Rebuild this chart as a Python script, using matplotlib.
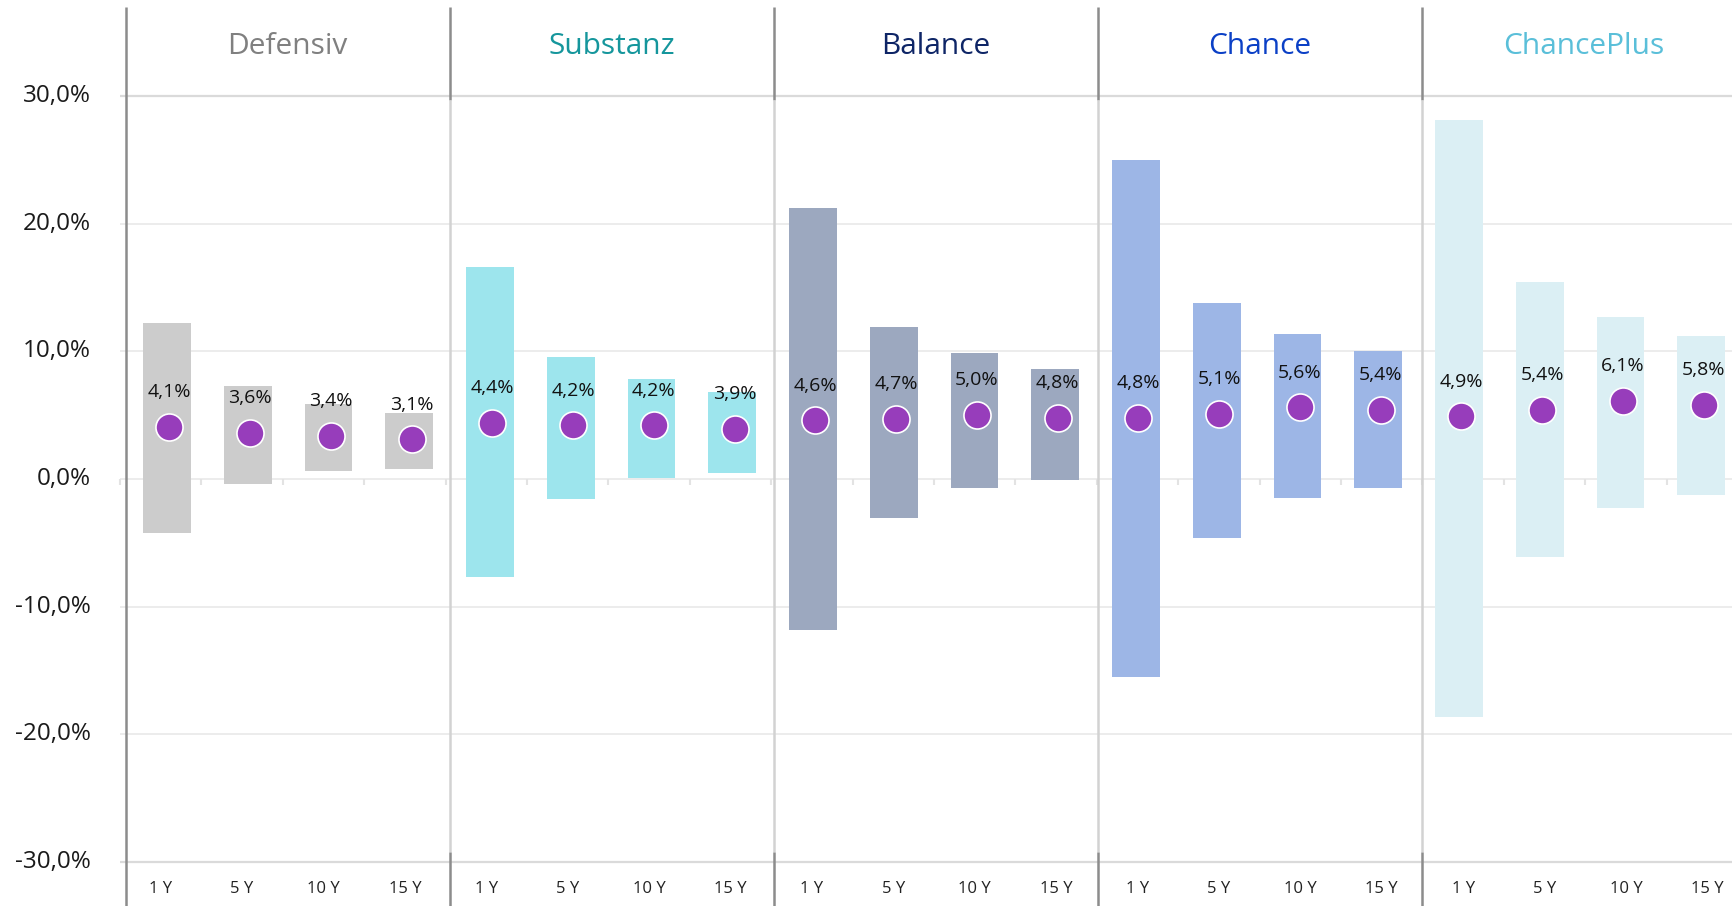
import matplotlib
matplotlib.use("Agg")
import matplotlib.pyplot as plt
import numpy as np

plt.rcParams['font.family'] = ['Open Sans', 'DejaVu Sans']

# ---------------- data ----------------
funds = ["Defensiv", "Substanz", "Balance", "Chance", "ChancePlus"]
horizons = ["1 Y", "5 Y", "10 Y", "15 Y"]

defensiv_low = [-4.2, -0.4, 0.65, 0.8]
defensiv_high = [12.2, 7.3, 5.9, 5.2]
defensiv_mid = [4.1, 3.6, 3.4, 3.1]

substanz_low = [-7.65, -1.55, 0.1, 0.5]
substanz_high = [16.6, 9.55, 7.85, 6.8]
substanz_mid = [4.4, 4.2, 4.2, 3.9]

balance_low = [-11.8, -3.05, -0.7, -0.05]
balance_high = [21.2, 11.9, 9.9, 8.6]
balance_mid = [4.6, 4.7, 5.0, 4.8]

chance_low = [-15.5, -4.6, -1.45, -0.7]
chance_high = [25.0, 13.8, 11.35, 10.0]
chance_mid = [4.8, 5.1, 5.6, 5.4]

chanceplus_low = [-18.6, -6.1, -2.3, -1.25]
chanceplus_high = [28.1, 15.45, 12.7, 11.2]
chanceplus_mid = [4.9, 5.4, 6.1, 5.8]

y_ticks = [-30, -20, -10, 0, 10, 20, 30]

bar_colors = ["#cccccc", "#9de5ed", "#9ca8bf", "#9db6e6", "#dbeff4"]
title_colors = ["#808080", "#15969c", "#0e2566", "#0b40c6", "#5abfd9"]
dot_color = "#973dbb"

lows = [defensiv_low, substanz_low, balance_low, chance_low, chanceplus_low]
highs = [defensiv_high, substanz_high, balance_high, chance_high, chanceplus_high]
mids = [defensiv_mid, substanz_mid, balance_mid, chance_mid, chanceplus_mid]

# ---------------- layout ----------------
W, H = 1733, 906
DPI = 100
fig = plt.figure(figsize=(W / DPI, H / DPI), dpi=DPI)

X0_PX, SLOT_PX = 167.0, 80.75        # first bar centre, bar spacing (pixels)
ZERO_PX, UNIT_PX = 479.0, 12.77       # pixel row of 0 %, pixels per 1 %
AX_LEFT_PX = 125.7

def px2x(p):
    return (p - X0_PX) / SLOT_PX

def py2y(p):
    return (ZERO_PX - p) / UNIT_PX

ax = fig.add_axes([AX_LEFT_PX / W, 0, (W - AX_LEFT_PX) / W, 1])
ax.set_xlim(px2x(AX_LEFT_PX), px2x(W))
ax.set_ylim(py2y(H), py2y(0))
ax.axis("off")

# gridlines
for t in y_ticks:
    edge = abs(t) == 30
    ax.plot([px2x(120), px2x(W + 5)], [t, t], color="#dadada" if edge else "#ececec",
            lw=1.6 if edge else 1.4, zorder=1, clip_on=False, solid_capstyle="butt")
    ax.text(px2x(91), t, f"{t:.1f}%".replace(".", ","), ha="right", va="center",
            fontsize=17.5, color="#1a1a1a", clip_on=False)

# small category ticks on zero line
for j in range(21):
    xp = px2x(120 + 81.4 * j)
    ax.plot([xp, xp], [0, py2y(ZERO_PX + 6)], color="#e3e3e3", lw=1.5, zorder=1,
            clip_on=False, solid_capstyle="butt")

# panel separators
y_top_dark = py2y(7)
y_head = py2y(100)
y_foot = py2y(852)
y_bot = py2y(H)
for k in range(5):
    xs = px2x(AX_LEFT_PX + 324.1 * k)
    if k == 0:
        ax.plot([xs, xs], [y_top_dark, y_bot], color="#8c8c8c", lw=1.8, zorder=3,
                clip_on=False, solid_capstyle="butt")
    else:
        ax.plot([xs, xs], [y_top_dark, y_head], color="#8c8c8c", lw=1.8, zorder=3,
                clip_on=False, solid_capstyle="butt")
        ax.plot([xs, xs], [y_head, y_foot], color="#d2d2d2", lw=1.8, zorder=3,
                clip_on=False, solid_capstyle="butt")
        ax.plot([xs, xs], [y_foot, y_bot], color="#8c8c8c", lw=1.8, zorder=3,
                clip_on=False, solid_capstyle="butt")
    # panel title
    xc = px2x(AX_LEFT_PX + 324.1 * k + 162)
    ax.text(xc, py2y(47), funds[k], ha="center", va="center", fontsize=21.5,
            color=title_colors[k], clip_on=False)

# bars, dots and labels
for k in range(5):
    pos = np.arange(4) + 4 * k
    lo = np.array(lows[k])
    hi = np.array(highs[k])
    ax.bar(pos, hi - lo, bottom=lo, width=0.594, color=bar_colors[k], zorder=2)
    ax.scatter(pos + 0.03, mids[k], s=380, color=dot_color, edgecolors="white",
               linewidths=1.2, zorder=4)
    for p, m in zip(pos, mids[k]):
        ax.annotate(f"{m:.1f}%".replace(".", ","), (p + 0.03, m), xytext=(0, 25),
                    textcoords="offset points", ha="center", va="center",
                    fontsize=14, color="#111111", zorder=5)
    for i, h in enumerate(horizons):
        j = 4 * k + i
        ax.text(px2x(160.7 + 81.4 * j), py2y(889), h, ha="center", va="center",
                fontsize=12, color="#222222", clip_on=False)

fig.savefig("out.png", dpi=DPI)
